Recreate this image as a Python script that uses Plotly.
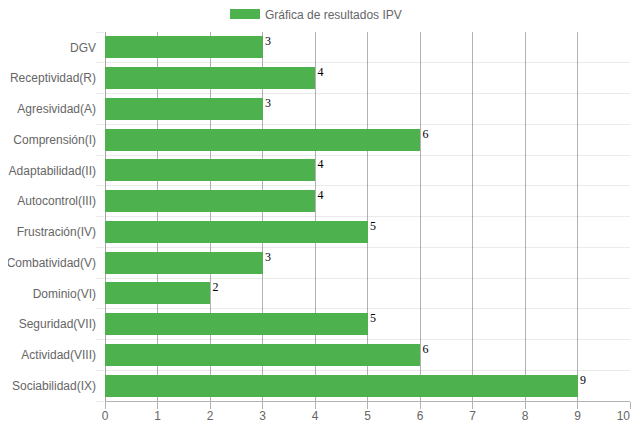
import plotly.graph_objects as go

categories = ["DGV", "Receptividad(R)", "Agresividad(A)", "Comprensión(I)", "Adaptabilidad(II)",
              "Autocontrol(III)", "Frustración(IV)", "Combatividad(V)", "Dominio(VI)",
              "Seguridad(VII)", "Actividad(VIII)", "Sociabilidad(IX)"]
values = [3, 4, 3, 6, 4, 4, 5, 3, 2, 5, 6, 9]
series_name = "Gráfica de resultados IPV"
x_tick_vals = [0, 1, 2, 3, 4, 5, 6, 7, 8, 9, 10]
# last label padded on the right so it stays inside the visible page
x_tick_text = ["0", "1", "2", "3", "4", "5", "6", "7", "8", "9", "10\u2007\u2007"]

idx = list(range(len(categories)))
bar_w = 0.72
bar_color = "rgba(77,178,77,1)"

# page body has an 8px default margin; figure size compensates for it
W, H = 631, 414
M = dict(l=97, r=9, t=24, b=21)
plot_h = H - M["t"] - M["b"]

fig = go.Figure()
fig.add_trace(go.Bar(
    x=values, y=idx, orientation="h", width=bar_w,
    name=series_name, showlegend=False,
    marker=dict(color=bar_color, line=dict(width=0)),
    hoverinfo="x+y",
))
# legend entry drawn as a wide box like the reference legend
fig.add_trace(go.Scatter(
    x=[None], y=[None], mode="lines", name=series_name, showlegend=True,
    line=dict(color=bar_color, width=11),
))
fig.add_trace(go.Scatter(
    x=values, y=[i - bar_w / 2 for i in idx], mode="text",
    text=["\u2009" + str(v) for v in values], textposition="bottom right",
    textfont=dict(family="Liberation Serif", size=12, color="#000"),
    showlegend=False, hoverinfo="skip", cliponaxis=False,
))

fig.update_layout(
    width=W, height=H,
    margin=dict(**M, autoexpand=False),
    paper_bgcolor="white", plot_bgcolor="white",
    font=dict(family="Liberation Sans, Arial", size=12, color="#666"),
    showlegend=True,
    legend=dict(orientation="h", xref="container", x=217 / W, xanchor="left",
                yref="paper", y=1 + 18 / plot_h, yanchor="middle",
                font=dict(size=12, color="#666")),
    bargap=0,
)
fig.update_xaxes(
    range=[0, 10], tickmode="array", tickvals=x_tick_vals, ticktext=x_tick_text,
    automargin=False, ticklabeloverflow="allow",
    showgrid=True, gridcolor="rgba(0,0,0,0.3)", gridwidth=1,
    showline=True, linecolor="rgba(0,0,0,0.3)",
    ticks="outside", ticklen=7, tickcolor="rgba(0,0,0,0.3)", ticklabelstandoff=-3,
    zeroline=True, zerolinecolor="rgba(0,0,0,0.35)", zerolinewidth=1,
    tickfont=dict(size=12, color="#666"), fixedrange=True,
)
n = len(categories)
fig.update_yaxes(
    range=[n - 0.5, -0.5], tickmode="array", tickvals=idx, ticktext=categories,
    showgrid=False, ticks="", ticklabelstandoff=8, automargin=False,
    showline=False, zeroline=False,
    minor=dict(tickmode="array", tickvals=[i - 0.5 for i in range(n + 1)],
               showgrid=True, gridcolor="rgba(0,0,0,0.08)", gridwidth=1,
               ticks="outside", ticklen=8, tickcolor="rgba(0,0,0,0.08)"),
    tickfont=dict(size=12, color="#666"), fixedrange=True,
)

fig.write_html("out.html")
